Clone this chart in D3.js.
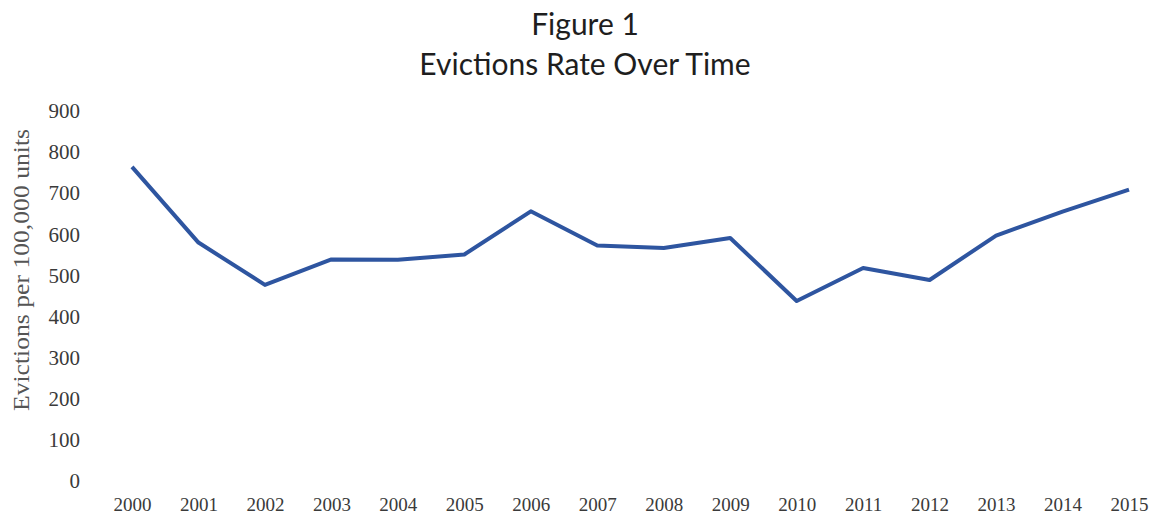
<!DOCTYPE html>
<html>
<head>
<meta charset="utf-8">
<script src="https://cdn.jsdelivr.net/npm/d3@7/dist/d3.min.js"></script>
<style>
  html, body { margin: 0; padding: 0; background: #ffffff; }
  svg { display: block; }
</style>
</head>
<body>
<svg id="chart" width="1154" height="516"></svg>
<script>
// Eviction rate per 100,000 rental units, by year
const years = ["2000","2001","2002","2003","2004","2005","2006","2007",
               "2008","2009","2010","2011","2012","2013","2014","2015"];
const rates = [764, 580, 477, 539, 538, 551, 656, 573, 567, 591, 438, 518, 489, 597, 655, 709];
const yTicks = [0, 100, 200, 300, 400, 500, 600, 700, 800, 900];
const titleLines = ["Figure 1", "Evictions Rate Over Time"];
const yLabel = "Evictions per 100,000 units";

const svg = d3.select("#chart");

const x = d3.scalePoint().domain(years).range([132, 1129]);
const y = d3.scaleLinear().domain([0, 900]).range([481, 111]);

const serif = "'Liberation Serif', 'DejaVu Serif', serif";

// Title
svg.append("g").selectAll("text")
  .data(titleLines)
  .join("text")
  .attr("x", 585)
  .attr("y", (d, i) => 35 + i * 40)
  .attr("text-anchor", "middle")
  .attr("font-family", "Lato, 'Noto Sans', sans-serif")
  .attr("font-size", 30)
  .attr("fill", "#1e1e1e")
  .text(d => d);

// Y axis (labels only)
const yAxis = d3.axisLeft(y).tickValues(yTicks).tickSize(0).tickPadding(0);
svg.append("g")
  .attr("transform", "translate(80,0)")
  .call(yAxis)
  .call(g => g.select(".domain").remove())
  .call(g => g.selectAll("text")
    .attr("font-family", serif)
    .attr("font-size", 21)
    .attr("fill", "#3a3a3a"));

// X axis (labels only)
const xAxis = d3.axisBottom(x).tickSize(0).tickPadding(0);
svg.append("g")
  .attr("transform", "translate(0,497)")
  .call(xAxis)
  .call(g => g.select(".domain").remove())
  .call(g => g.selectAll("text")
    .attr("font-family", serif)
    .attr("font-size", 19)
    .attr("fill", "#3a3a3a"));

// Y axis title
svg.append("text")
  .attr("transform", "translate(29,270) rotate(-90)")
  .attr("text-anchor", "middle")
  .attr("font-family", serif)
  .attr("font-size", 24)
  .attr("textLength", 282)
  .attr("lengthAdjust", "spacingAndGlyphs")
  .attr("fill", "#555")
  .text(yLabel);

// Rate line
const line = d3.line()
  .x((d, i) => x(years[i]))
  .y(d => y(d));

svg.append("path")
  .datum(rates)
  .attr("d", line)
  .attr("fill", "none")
  .attr("stroke", "#2e55a0")
  .attr("stroke-width", 4)
  .attr("stroke-linejoin", "round");
</script>
</body>
</html>
